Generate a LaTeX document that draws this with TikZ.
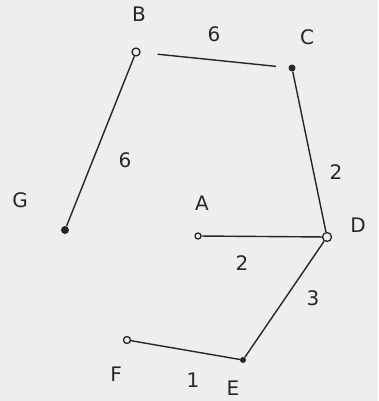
\documentclass[tikz,border=0pt]{standalone}
\usepackage{fontspec}
\setmainfont{DejaVu Sans}
\definecolor{paper}{HTML}{EEEEEE}
\definecolor{ink}{HTML}{262626}
\begin{document}
\begin{tikzpicture}[x=1pt,y=-1pt,
  edge/.style={draw=ink,line width=1.4pt},
  opendot/.style={circle,draw=ink,line width=1.3pt,fill=paper,inner sep=0pt,minimum size=#1},
  filldot/.style={circle,fill=ink,inner sep=0pt,minimum size=#1},
  lbl/.style={text=ink,font=\fontsize{20}{20}\selectfont}]
\fill[paper] (0,0) rectangle (378,401);
\useasboundingbox (0,0) rectangle (378,401);
% vertices
\node[opendot=8pt] (B) at (136,52) {};
\node[filldot=7pt] (C) at (292,68) {};
\node[opendot=9pt] (D) at (327,237) {};
\node[opendot=6pt] (A) at (198,236) {};
\node[filldot=6pt] (E) at (243,360) {};
\node[opendot=7pt] (F) at (127,340) {};
\node[filldot=8pt] (G) at (65,230) {};
% edges
\draw[edge,shorten <=17pt,shorten >=12.5pt] (B) -- (C);
\draw[edge] (C) -- (D);
\draw[edge] (B) -- (G);
\draw[edge] (A) -- (D);
\draw[edge] (D) -- (E);
\draw[edge] (F) -- (E);
% vertex labels
\node[lbl] (lB) at (139,14) {B};
\node[lbl] (lC) at (307,37) {C};
\node[lbl] (lD) at (358,225) {D};
\node[lbl] (lA) at (202,203) {A};
\node[lbl] (lE) at (233,388) {E};
\node[lbl] (lF) at (116,374) {F};
\node[lbl] (lG) at (20,200) {G};
% weights
\node[lbl] (wBC) at (214,34) {6};
\node[lbl] (wCD) at (336,172) {2};
\node[lbl] (wAD) at (242,263) {2};
\node[lbl] (wDE) at (313,298) {3};
\node[lbl] (wFE) at (193,380) {1};
\node[lbl] (wBG) at (125,160) {6};
\end{tikzpicture}
\end{document}
